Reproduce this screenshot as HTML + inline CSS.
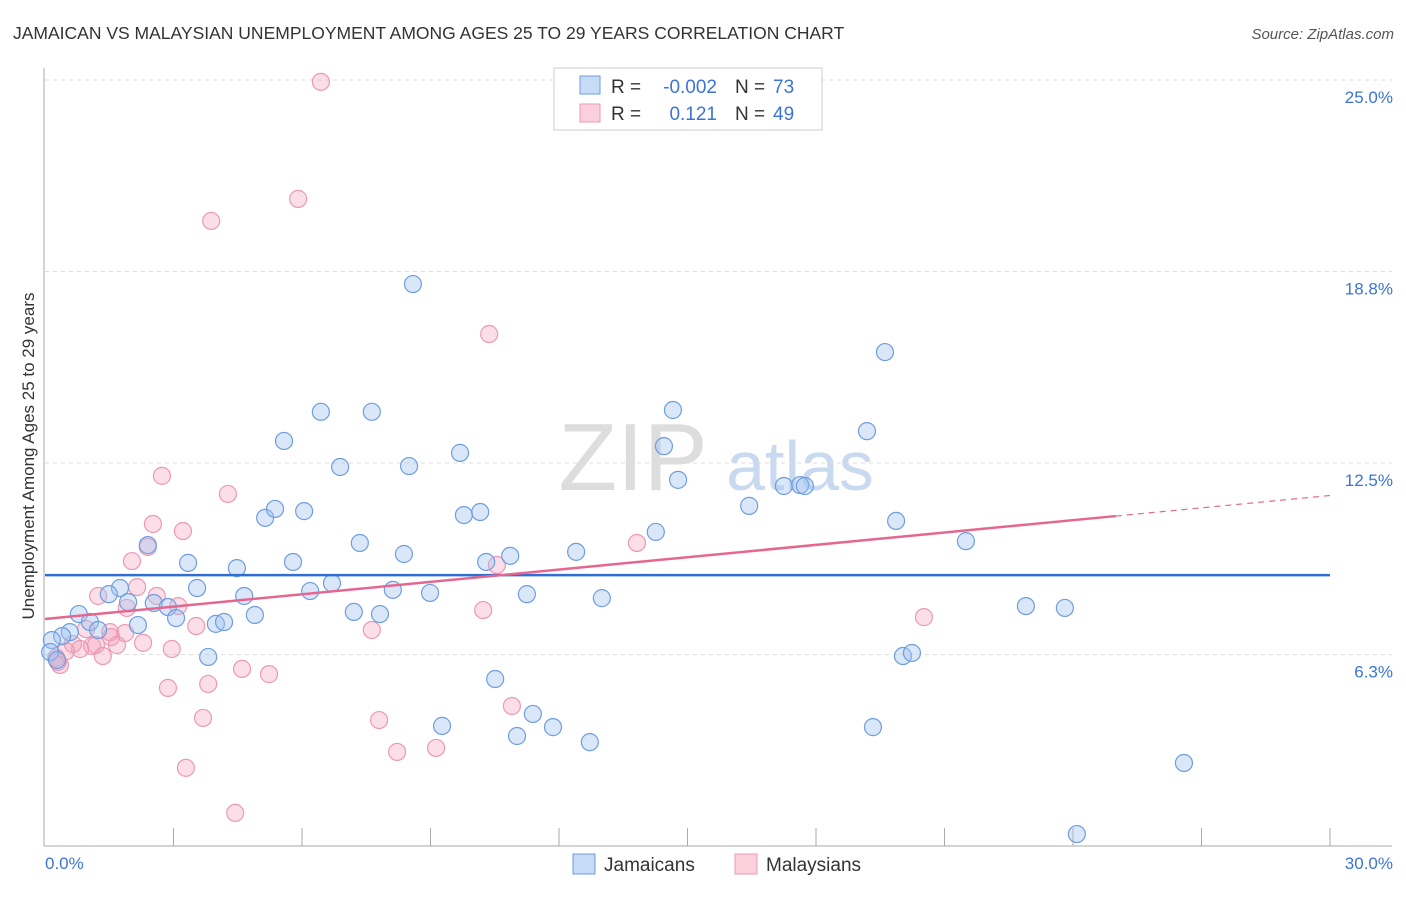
<!DOCTYPE html>
<html><head><meta charset="utf-8"><style>
body{margin:0;background:#fff;font-family:"Liberation Sans",sans-serif}
svg text{font-family:"Liberation Sans",sans-serif}
</style></head><body>
<svg id="chart" width="1406" height="892" viewBox="0 0 1406 892" xmlns="http://www.w3.org/2000/svg">
<text x="13" y="39" font-size="17.5" fill="#333">JAMAICAN VS MALAYSIAN UNEMPLOYMENT AMONG AGES 25 TO 29 YEARS CORRELATION CHART</text>
<text x="1394" y="39" font-size="15" fill="#555" font-style="italic" text-anchor="end">Source: ZipAtlas.com</text>
<g>
<text x="633" y="490" font-size="96" fill="#ddd" font-family="Liberation Serif,serif" text-anchor="middle">ZIP</text>
<text x="800" y="490" font-size="70" fill="#c9daf0" text-anchor="middle">atlas</text>
</g>
<g id="grid"></g>
<g id="axes"></g>
<g id="pink"></g>
<g id="blue"></g>
<g id="trends"></g>
<text transform="translate(34,456) rotate(-90)" font-size="17" fill="#333" text-anchor="middle">Unemployment Among Ages 25 to 29 years</text>
<text x="45" y="869" font-size="17" fill="#3b74d6">0.0%</text>
<text x="1393" y="869" font-size="17" fill="#3b74d6" text-anchor="end">30.0%</text>
<g>
<rect x="554" y="68" width="268" height="62" fill="#fff" stroke="#ccc"/>
<rect x="580" y="76" width="20" height="18" fill="#c6dbf5" stroke="#6f9de0"/>
<rect x="580" y="104" width="20" height="18" fill="#fbd0dc" stroke="#ec9ab3"/>
<text x="611" y="93" font-size="19" fill="#333">R = </text><text x="717" y="93" font-size="19" fill="#3b74d6" text-anchor="end">-0.002</text>
<text x="735" y="93" font-size="19" fill="#333">N = </text><text x="773" y="93" font-size="19" fill="#3b74d6">73</text>
<text x="611" y="120" font-size="19" fill="#333">R = </text><text x="717" y="120" font-size="19" fill="#3b74d6" text-anchor="end">0.121</text>
<text x="735" y="120" font-size="19" fill="#333">N = </text><text x="773" y="120" font-size="19" fill="#3b74d6">49</text>
</g>
<g>
<rect x="573" y="854" width="22" height="20" fill="#c6dbf5" stroke="#6f9de0"/>
<text x="604" y="871" font-size="19" fill="#333">Jamaicans</text>
<rect x="735" y="854" width="22" height="20" fill="#fbd0dc" stroke="#ec9ab3"/>
<text x="766" y="871" font-size="19" fill="#333">Malaysians</text>
</g>
</svg>
<script>
const yTicks=[25,18.75,12.5,6.25];
const yTickLabels=["25.0%","18.8%","12.5%","6.3%"];
const blueX=[8.59,19.61,6.44,7.63,14.66,5.58,19.19,9.69,14.45,6.89,8.50,14.78,17.25,17.63,17.74,16.44,5.14,5.37,6.05,9.78,10.16,19.87,14.26,2.40,7.35,12.40,21.50,3.34,5.79,8.38,10.30,10.86,4.48,1.75,3.55,6.70,6.19,8.12,8.99,1.49,1.94,2.54,4.65,11.25,13.00,2.87,3.06,7.21,7.82,4.90,0.79,22.90,23.81,2.17,3.99,4.18,1.05,1.24,0.58,0.40,3.81,20.03,20.24,0.16,0.12,0.28,10.51,9.27,11.39,11.86,11.02,12.72,19.33,26.59,24.09];
const blueY=[18.34,16.12,14.17,14.17,14.23,13.22,13.54,12.83,13.05,12.37,12.40,11.95,11.75,11.78,11.75,11.10,10.71,11.00,10.93,10.80,10.90,10.61,10.25,9.82,9.89,9.60,9.95,9.24,9.27,9.53,9.27,9.47,9.07,8.42,8.42,8.58,8.32,8.36,8.26,8.22,7.96,7.93,8.16,8.22,8.09,7.80,7.44,7.64,7.57,7.54,7.57,7.83,7.77,7.21,7.25,7.31,7.31,7.05,6.98,6.85,6.17,6.20,6.30,6.72,6.33,6.07,5.45,3.92,4.31,3.88,3.59,3.39,3.88,2.71,0.39];
const pinkX=[6.44,5.91,3.88,10.37,2.73,4.27,2.52,3.22,2.40,2.03,13.82,10.55,2.15,2.61,1.24,1.91,3.11,10.23,20.52,3.53,7.63,0.96,1.52,1.87,1.54,2.29,2.96,1.68,1.10,0.82,1.19,0.65,0.49,1.35,0.30,0.26,0.35,4.60,5.23,2.87,3.81,10.90,3.69,7.80,9.13,8.22,3.29,4.44];
const pinkY=[24.94,21.12,20.40,16.71,12.08,11.49,10.51,10.28,9.76,9.30,9.89,9.17,8.45,8.16,8.16,7.77,7.83,7.70,7.47,7.18,7.05,7.08,6.98,6.95,6.82,6.63,6.43,6.56,6.53,6.43,6.56,6.59,6.36,6.20,6.01,6.14,5.91,5.78,5.61,5.16,5.29,4.57,4.18,4.11,3.20,3.07,2.55,1.08];
const blueTrend=[8.84,8.84];
const pinkTrend=[7.41,11.44];
const xTicks=[3,6,9,12,15,18,21,24,27,30];

const NS="http://www.w3.org/2000/svg";
const X=v=>45+v/30*1285;
const Y=v=>846-v/25*766;
function mk(tag,attrs,parent){const e=document.createElementNS(NS,tag);for(const k in attrs)e.setAttribute(k,attrs[k]);document.getElementById(parent).appendChild(e);return e;}
yTicks.forEach((t,i)=>{
 const l=mk('line',{x1:45,x2:1392,y1:Y(t),y2:Y(t),stroke:'#ddd','stroke-dasharray':'4,4'},'grid');
 
 
 const tx=mk('text',{x:1393,y:Y(t)+23,'font-size':17,fill:'#3b74d6','text-anchor':'end'},'grid');
 tx.textContent=yTickLabels[i];
 
 
});
const ya=mk('line',{x1:44,x2:44,y1:68,y2:846,stroke:'#aaa'},'axes');


const xa=mk('line',{x1:44,x2:1392,y1:846,y2:846,stroke:'#aaa'},'axes');


xTicks.forEach(t=>{
 const l=mk('line',{x1:X(t),x2:X(t),y1:828,y2:846,stroke:'#aaa'},'axes');
 
 
});
pinkX.forEach((v,i)=>{
 const c=mk('circle',{cx:X(v),cy:Y(pinkY[i]),r:8.5,fill:'rgba(244,160,185,0.35)',stroke:'#ec9ab3','stroke-width':1.2},'pink');
 
 
});
blueX.forEach((v,i)=>{
 const c=mk('circle',{cx:X(v),cy:Y(blueY[i]),r:8.5,fill:'rgba(160,195,240,0.4)',stroke:'#6f9de0','stroke-width':1.2},'blue');
 
 
});
const bt=mk('line',{x1:X(0),x2:X(30),y1:Y(blueTrend[0]),y2:Y(blueTrend[1]),stroke:'#2f6fd4','stroke-width':2.5},'trends');


const pAt=x=>pinkTrend[0]+(pinkTrend[1]-pinkTrend[0])*x/30;
const pt=mk('line',{x1:X(0),x2:X(25),y1:Y(pAt(0)),y2:Y(pAt(25)),stroke:'#e5678f','stroke-width':2.5},'trends');


const pd=mk('line',{x1:X(25),x2:X(30),y1:Y(pAt(25)),y2:Y(pAt(30)),stroke:'#e5678f','stroke-width':1.2,'stroke-dasharray':'6,5'},'trends');


</script>
</body></html>
